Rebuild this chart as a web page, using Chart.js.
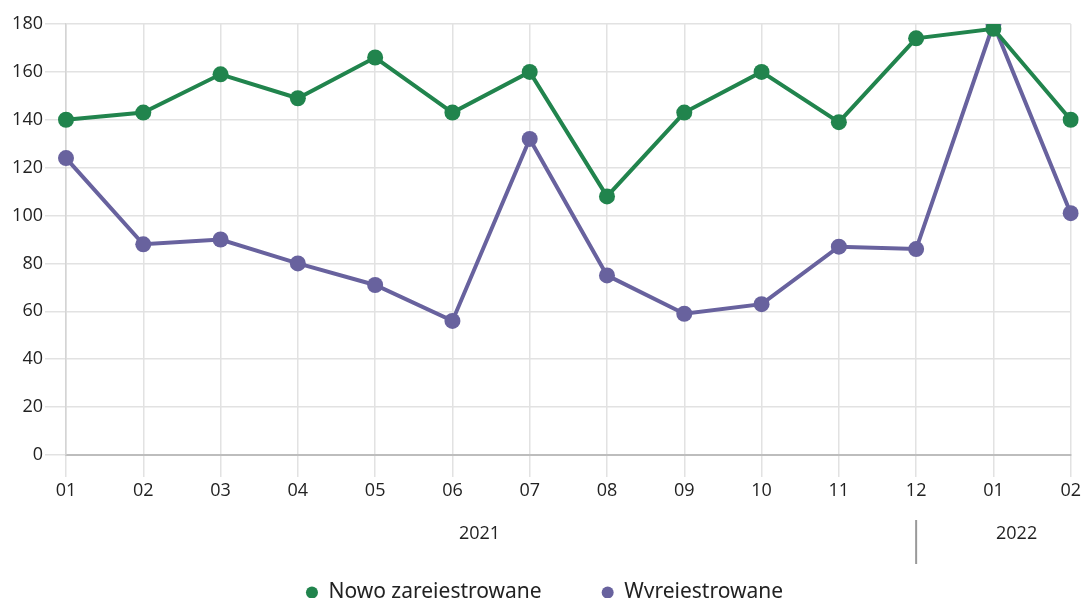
<!DOCTYPE html>
<html>
<head>
<meta charset="utf-8">
<script src="https://cdn.jsdelivr.net/npm/chart.js@4.4.1/dist/chart.umd.min.js"></script>
<style>
  html, body { margin: 0; padding: 0; background: #fff; }
  #wrap { width: 1084px; height: 598px; }
</style>
</head>
<body>
<div id="wrap"><canvas id="chart"></canvas></div>
<script>
// Months (Jan 2021 - Feb 2022)
const months = ['01', '02', '03', '04', '05', '06', '07', '08', '09', '10', '11', '12', '01', '02'];
const nowoZarejestrowane = [140, 143, 159, 149, 166, 143, 160, 108, 143, 160, 139, 174, 178, 140];
const wyrejestrowane = [124, 88, 90, 80, 71, 56, 132, 75, 59, 63, 87, 86, 180, 101];
const yearLabels = ['2021', '2022'];
const yTicks = [0, 20, 40, 60, 80, 100, 120, 140, 160, 180];

const GREEN = '#21844d';
const PURPLE = '#68629e';

// Year row under the month labels, with a divider at December
const yearRow = {
    id: 'yearRow',
    afterLayout(chart) {
        // nudge the legend a little to the right
        chart.legend.left += 9;
        chart.legend.right += 9;
    },
    afterDraw(chart) {
        const x = chart.scales.x;
        const ctx = chart.ctx;
        ctx.save();
        ctx.font = '18px "Open Sans", "Noto Sans", sans-serif';
        ctx.fillStyle = '#222';
        ctx.textAlign = 'center';
        ctx.textBaseline = 'middle';
        ctx.fillText(yearLabels[0], x.getPixelForValue(5.35), 534);
        ctx.fillText(yearLabels[1], x.getPixelForValue(12.3), 534);
        const sep = x.getPixelForValue(11);
        ctx.strokeStyle = '#999';
        ctx.lineWidth = 2;
        ctx.beginPath();
        ctx.moveTo(sep, 520);
        ctx.lineTo(sep, 564);
        ctx.stroke();
        ctx.restore();
    }
};

new Chart(document.getElementById('chart'), {
    type: 'line',
    data: {
        labels: months,
        datasets: [
            {
                label: 'Nowo zarejestrowane',
                data: nowoZarejestrowane,
                borderColor: GREEN,
                backgroundColor: GREEN,
                borderWidth: 4,
                pointRadius: 8,
                pointHoverRadius: 8,
                pointBorderWidth: 0,
                tension: 0,
                fill: false
            },
            {
                label: 'Wyrejestrowane',
                data: wyrejestrowane,
                borderColor: PURPLE,
                backgroundColor: PURPLE,
                borderWidth: 4,
                pointRadius: 8,
                pointHoverRadius: 8,
                pointBorderWidth: 0,
                tension: 0,
                fill: false
            }
        ]
    },
    options: {
        responsive: true,
        maintainAspectRatio: false,
        animation: false,
        layout: { padding: { top: 24, right: 13, left: 0, bottom: -15 } },
        plugins: {
            tooltip: { enabled: false },
            legend: {
                position: 'bottom',
                labels: {
                    usePointStyle: true,
                    pointStyle: 'circle',
                    boxWidth: 12,
                    boxHeight: 8.5,
                    padding: 60,
                    color: '#222',
                    font: { family: '"Noto Sans", sans-serif', size: 21 }
                }
            }
        },
        scales: {
            x: {
                afterFit(scale) { scale.height = 67; },
                grid: { color: '#e2e2e2', lineWidth: 1.5, tickLength: 22 },
                border: { color: '#bdbdbd', width: 2 },
                ticks: {
                    color: '#222',
                    padding: 3,
                    maxRotation: 0,
                    font: { family: '"Open Sans", sans-serif', size: 18 }
                }
            },
            y: {
                min: 0,
                max: 180,
                afterFit(scale) { scale.width = 66; },
                afterBuildTicks(scale) { scale.ticks = yTicks.map(v => ({ value: v })); },
                grid: { color: '#e2e2e2', lineWidth: 1.5, tickLength: 21 },
                border: { color: '#d4d4d4', width: 1.5 },
                ticks: {
                    color: '#222',
                    padding: 2,
                    font: { family: '"Open Sans", sans-serif', size: 18 }
                }
            }
        }
    },
    plugins: [yearRow]
});
</script>
</body>
</html>
